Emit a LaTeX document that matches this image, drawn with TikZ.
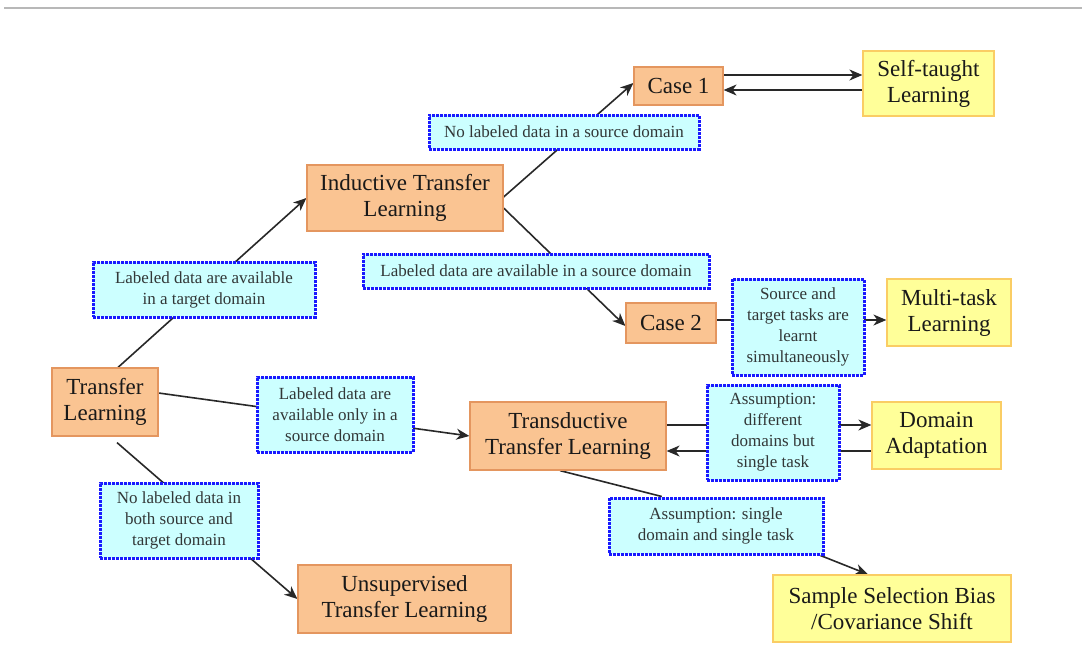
\documentclass[tikz,border=0pt]{standalone}
\usepackage{fontspec}
\setmainfont{Liberation Serif}
\usetikzlibrary{arrows.meta,calc,backgrounds}
\definecolor{boxorange}{RGB}{250,196,146}
\definecolor{edgeorange}{RGB}{228,150,95}
\definecolor{boxyellow}{RGB}{255,255,153}
\definecolor{edgeyellow}{RGB}{250,205,100}
\definecolor{labcyan}{RGB}{204,255,255}
\definecolor{labblue}{RGB}{25,25,255}
\definecolor{linegray}{RGB}{40,40,40}
\definecolor{labtext}{RGB}{50,55,55}
\begin{document}
\begin{tikzpicture}[x=1pt,y=-1pt,
  obox/.style={draw=edgeorange, fill=boxorange, line width=1.2pt, inner sep=0pt, align=center, text=black!90, font=\rmfamily\fontsize{23}{26}\selectfont},
  ybox/.style={draw=edgeyellow, fill=boxyellow, line width=1.2pt, inner sep=0pt, align=center, text=black!90, font=\rmfamily\fontsize{23}{26}\selectfont},
  lbox/.style={draw=labblue, fill=labcyan, line width=3pt, dash pattern=on 3pt off 1pt, inner sep=0pt, align=center, text=labtext, font=\rmfamily\fontsize{17}{21}\selectfont},
  connline/.style={draw=linegray, line width=1.6pt},
  connarrow/.style={draw=linegray, line width=1.6pt, -{Stealth[length=13pt,width=11pt,inset=4pt]}}
]
\useasboundingbox (0,0) rectangle (1082,654);
\draw[black!28, line width=1.5pt] (4,8) -- (1082,8);

% main boxes
\node[obox, minimum width=106pt, minimum height=68pt] (tl) at (105,402) {Transfer\\Learning};
\node[obox, minimum width=196pt, minimum height=66pt] (itl) at (405,198) {Inductive Transfer\\Learning};
\node[obox, minimum width=89pt, minimum height=38pt] (c1) at (678.5,86) {Case 1};
\node[ybox, minimum width=131pt, minimum height=65pt] (stl) at (928.5,83.5) {Self-taught\\Learning};
\node[obox, minimum width=90pt, minimum height=40pt] (c2) at (671,323) {Case 2};
\node[ybox, minimum width=124pt, minimum height=67pt] (mtl) at (949,312.5) {Multi-task\\Learning};
\node[obox, minimum width=196pt, minimum height=68pt] (ttl) at (568,436) {Transductive\\Transfer Learning};
\node[ybox, minimum width=129pt, minimum height=67pt] (da) at (936.5,435.5) {Domain\\Adaptation};
\node[obox, minimum width=213pt, minimum height=68pt] (utl) at (404.5,599) {Unsupervised\\Transfer Learning};
\node[ybox, minimum width=238pt, minimum height=67pt] (ssb) at (892,608.5) {Sample Selection Bias\\/Covariance Shift};

% label boxes
\node[lbox, minimum width=270pt, minimum height=34pt] (l1) at (564,132) {No labeled data in a source domain};
\node[lbox, minimum width=346pt, minimum height=34pt] (l2) at (536,271) {Labeled data are available in a source domain};
\node[lbox, minimum width=222pt, minimum height=55pt] (l3) at (204,289.5) {Labeled data are available\\in a target domain};
\node[lbox, minimum width=156pt, minimum height=75pt] (l4) at (335,414.5) {Labeled data are\\available only in a\\source domain};
\node[lbox, minimum width=158pt, minimum height=75pt] (l5) at (179,520.5) {No labeled data in\\both source and\\target domain};
\node[lbox, minimum width=132pt, minimum height=96pt] (l6) at (798,327) {Source and\\target tasks are\\learnt\\simultaneously};
\node[lbox, minimum width=132pt, minimum height=95pt] (l7) at (773,432.5) {Assumption:\\different\\domains but\\single task};
\node[lbox, minimum width=214pt, minimum height=56pt] (l8) at (716,526) {Assumption: single\\domain and single task};

% connectors
\begin{scope}[on background layer]
\draw[connarrow] ($(tl.north)+(13,0)$) -- (itl.west);
\draw[connarrow] ($(tl.east)+(0,-9)$) -- (ttl.west);
\draw[connarrow] ($(tl.south)+(12,6)$) -- (utl.west);
\draw[connarrow] ($(itl.east)+(0,-1)$) -- ($(c1.west)+(0,-3)$);
\draw[connarrow] ($(itl.east)+(0,10)$) -- ($(c2.west)+(0,3)$);
\coordinate (ca) at ($(c1.east)+(0,-11)$);
\coordinate (cb) at ($(c1.east)+(0,4)$);
\draw[connarrow] (ca) -- (ca -| stl.west);
\draw[connarrow] (cb -| stl.west) -- (cb);
\coordinate (cc) at ($(c2.east)+(0,-3)$);
\draw[connarrow] (cc) -- (cc -| mtl.west);
\coordinate (td) at ($(ttl.east)+(0,-11)$);
\coordinate (te) at ($(ttl.east)+(0,15)$);
\draw[connarrow] (td) -- (td -| da.west);
\draw[connarrow] (te -| da.west) -- (te);
\draw[connline] ($(ttl.south)+(-8,0)$) -- ($(l8.north west)!0.25!(l8.north east)$);
\draw[connarrow] ($(l8.south east)+(-4,0)$) -- ($(ssb.north west)!0.4!(ssb.north east)$);
\end{scope}
\end{tikzpicture}
\end{document}
